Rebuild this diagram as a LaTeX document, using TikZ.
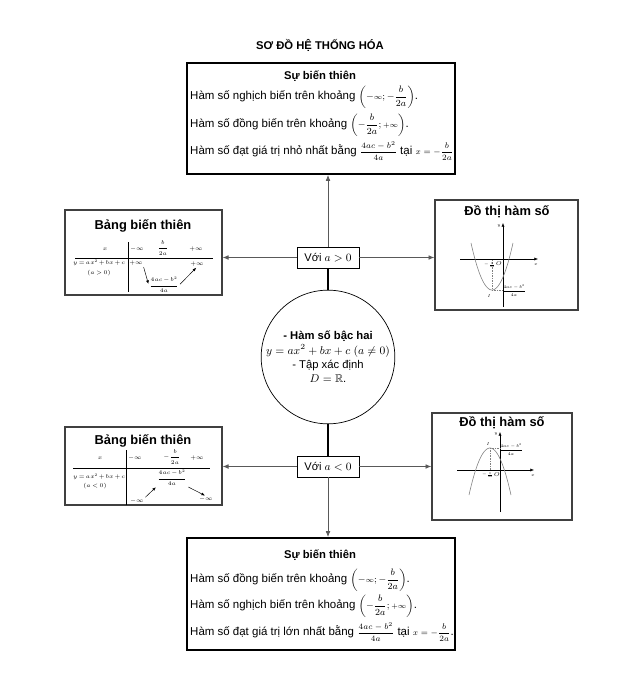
\RequirePackage{fix-cm}
\documentclass[tikz,border=0pt]{standalone}
\usepackage{amsmath,amssymb}
\usepackage{fontspec}
\setmainfont{Liberation Sans}
\usetikzlibrary{arrows.meta,positioning,calc}
\newcommand{\gonmath}{\medmuskip=2mu\relax\thickmuskip=3mu\relax}

\begin{document}
\begin{tikzpicture}[
    x=0.3mm, y=-0.3mm,
    khung/.style={draw, line width=1.6pt, minimum width=80.4mm, inner sep=0pt},
    bang/.style={draw=black!75, line width=1.1pt, inner sep=0pt},
    truong/.style={draw, line width=0.6pt, minimum width=18.6mm, minimum height=6.3mm, font=\fontsize{9.5}{11}\selectfont},
    dong/.style={anchor=west, inner sep=0pt, font=\fontsize{9.8}{11}\selectfont},
    tieude/.style={font=\fontsize{9.6}{11}\selectfont\bfseries},
    tieude2/.style={font=\fontsize{11}{13}\selectfont\bfseries},
    o/.style={font=\fontsize{4.8}{6}\selectfont\gonmath, inner sep=0.3pt},
    oo/.style={font=\fontsize{3.6}{4}\selectfont, inner sep=0.3pt},
    arr/.style={-{Latex[length=5pt,width=4pt]}, draw=black!65, line width=0.7pt},
    arr2/.style={-{Latex[length=3pt,width=2.5pt]}, line width=0.4pt, shorten <=1pt, shorten >=1pt},
    noi/.style={line width=2.2pt},
    truc/.style={-{Latex[length=3pt,width=2.5pt]}, line width=0.4pt},
    cham/.style={densely dotted, gray, line width=0.4pt},
    pb/.style={gray, line width=0.5pt}
]
\useasboundingbox (0,0) rectangle (639,673);

\node[tieude] (tdc) at (320,45) {SƠ ĐỒ HỆ THỐNG HÓA};

% su bien thien, a > 0
\node[khung, minimum height=33.3mm] (sbt1) at (321,118.5) {};
\node[tieude] (sbt1t) at (320,76) {Sự biến thiên};
\node[dong] (sbt1a) at (190,97) {Hàm số nghịch biến trên khoảng {\footnotesize$\left(-{\scriptstyle\infty};-\dfrac{b}{2a}\right)$}.};
\node[dong] (sbt1b) at (190,125) {Hàm số đồng biến trên khoảng {\footnotesize$\left(-\dfrac{b}{2a};{\scriptstyle+\infty}\right)$}.};
\node[dong] (sbt1c) at (190,151) {Hàm số đạt giá trị nhỏ nhất bằng {\scriptsize$\dfrac{4ac-b^2}{4a}$} tại {\scriptsize$x=-\dfrac{b}{2a}$}.};

% su bien thien, a < 0
\node[khung, minimum height=33.6mm] (sbt2) at (321,594) {};
\node[tieude] (sbt2t) at (320,555) {Sự biến thiên};
\node[dong] (sbt2a) at (190,580) {Hàm số đồng biến trên khoảng {\footnotesize$\left(-{\scriptstyle\infty};-\dfrac{b}{2a}\right)$}.};
\node[dong] (sbt2b) at (190,606) {Hàm số nghịch biến trên khoảng {\footnotesize$\left(-\dfrac{b}{2a};{\scriptstyle+\infty}\right)$}.};
\node[dong] (sbt2c) at (190,632) {Hàm số đạt giá trị lớn nhất bằng {\scriptsize$\dfrac{4ac-b^2}{4a}$} tại {\scriptsize$x=-\dfrac{b}{2a}$}.};

% ham so bac hai
\node[draw, circle, line width=0.6pt, minimum size=36.6mm, align=center, inner sep=0pt,
      font=\fontsize{9.6}{12.2}\selectfont] (ham) at (328,357)
  {\textbf{- Hàm số bậc hai}\\ $y=ax^2+bx+c\ (a\neq 0)$\\ - Tập xác định\\ $D=\mathbb{R}$.};

\node[truong, fill=white] (pos1) at (328,257.5) {Với $a>0$};
\node[truong, fill=white] (pos2) at (328,466.5) {Với $a<0$};

% bang bien thien, a > 0
\node[bang, minimum width=47.1mm, minimum height=25.5mm] (bbt1) at (143.5,252.5) {};
\node[tieude2] (bbt1t) at (143,226) {Bảng biến thiên};
\draw[line width=0.5pt] (75,258) -- (213,258);
\draw[line width=0.5pt] (128,242) -- (128,292);
\node[o] (x1) at (105,249) {$x$};
\node[o] (a1) at (137,249) {$-\infty$};
\node[o] (c1) at (163,248) {$\dfrac{b}{2a}$};
\node[o] (b1) at (196,249) {$+\infty$};
\node[o] (y1) at (99,263) {$y=ax^2+bx+c$};
\node[o] (k1) at (99,273) {$(a>0)$};
\node[o] (d1) at (136,263) {$+\infty$};
\node[o] (e1) at (197,264) {$+\infty$};
\node[o] (m1) at (164,285) {$\dfrac{4ac-b^2}{4a}$};
\draw[arr2] (d1.south east) -- (m1.west);
\draw[arr2] (m1.east) -- (e1.south);

% bang bien thien, a < 0
\node[bang, minimum width=47.1mm, minimum height=23.4mm] (bbt2) at (143.5,466) {};
\node[tieude2] (bbt2t) at (143,441) {Bảng biến thiên};
\draw[line width=0.5pt] (73,468) -- (210,468);
\draw[line width=0.5pt] (126,450) -- (126,505);
\node[o] (x2) at (100,458) {$x$};
\node[o] (a2) at (135,458) {$-\infty$};
\node[o] (c2) at (172,457) {$-\dfrac{b}{2a}$};
\node[o] (b2) at (197,458) {$+\infty$};
\node[o] (y2) at (99,477) {$y=ax^2+bx+c$};
\node[o] (k2) at (95,486) {$(a<0)$};
\node[o] (m2) at (172,478) {$\dfrac{4ac-b^2}{4a}$};
\node[o] (d2) at (137,501) {$-\infty$};
\node[o] (e2) at (206,499) {$-\infty$};
\draw[arr2] (d2.north east) -- (m2.south west);
\draw[arr2] (m2.south east) -- (e2.north);

% do thi, a > 0
\node[bang, minimum width=42.9mm, minimum height=33mm] (dt1) at (506.5,255) {};
\node[tieude2] (dt1t) at (507,212) {Đồ thị hàm số};
\draw[truc] (460,259) -- (538,259);
\draw[truc] (503,307) -- (503,223);
\draw[cham] (492,290) -- (492,259);
\draw[cham] (492,290) -- (503,290);
\draw[pb] plot[domain=-21:21, samples=40] ({492+\x},{290-0.1066*\x*\x});
\node[oo] (y3) at (499,226) {$y$};
\node[oo] (x3) at (536,265) {$x$};
\node[o] (o3) at (499,264) {$O$};
\node[oo] (c3) at (490,265) {$-\frac{b}{2a}$};
\node[oo] (m3) at (514,291) {$\dfrac{4ac-b^2}{4a}$};
\node[oo] (i3) at (489,296) {$I$};

% do thi, a < 0
\node[bang, minimum width=42mm, minimum height=32.1mm] (dt2) at (502,466.5) {};
\node[tieude2] (dt2t) at (502,423) {Đồ thị hàm số};
\draw[truc] (457,470) -- (534,470);
\draw[truc] (500,512) -- (500,432);
\draw[cham] (490,448) -- (490,470);
\draw[cham] (490,448) -- (500,448);
\draw[pb] plot[domain=-21:21, samples=40] ({490+\x},{448+0.1066*\x*\x});
\node[oo] (y4) at (496,434) {$y$};
\node[oo] (x4) at (533,476) {$x$};
\node[o] (o4) at (497,475) {$O$};
\node[oo] (c4) at (488,475) {$-\frac{b}{2a}$};
\node[oo] (m4) at (511,450) {$\dfrac{4ac-b^2}{4a}$};
\node[oo] (i4) at (488,444) {$I$};

\draw[noi] (pos1) -- (ham);
\draw[noi] (ham) -- (pos2);
\draw[arr] (pos1) -- (pos1 |- sbt1.south);
\draw[arr] (pos1) -- (pos1 -| bbt1.east);
\draw[arr] (pos1) -- (pos1 -| dt1.west);
\draw[arr] (pos2) -- (pos2 |- sbt2.north);
\draw[arr] (pos2) -- (pos2 -| bbt2.east);
\draw[arr] (pos2) -- (pos2 -| dt2.west);
\end{tikzpicture}
\end{document}
